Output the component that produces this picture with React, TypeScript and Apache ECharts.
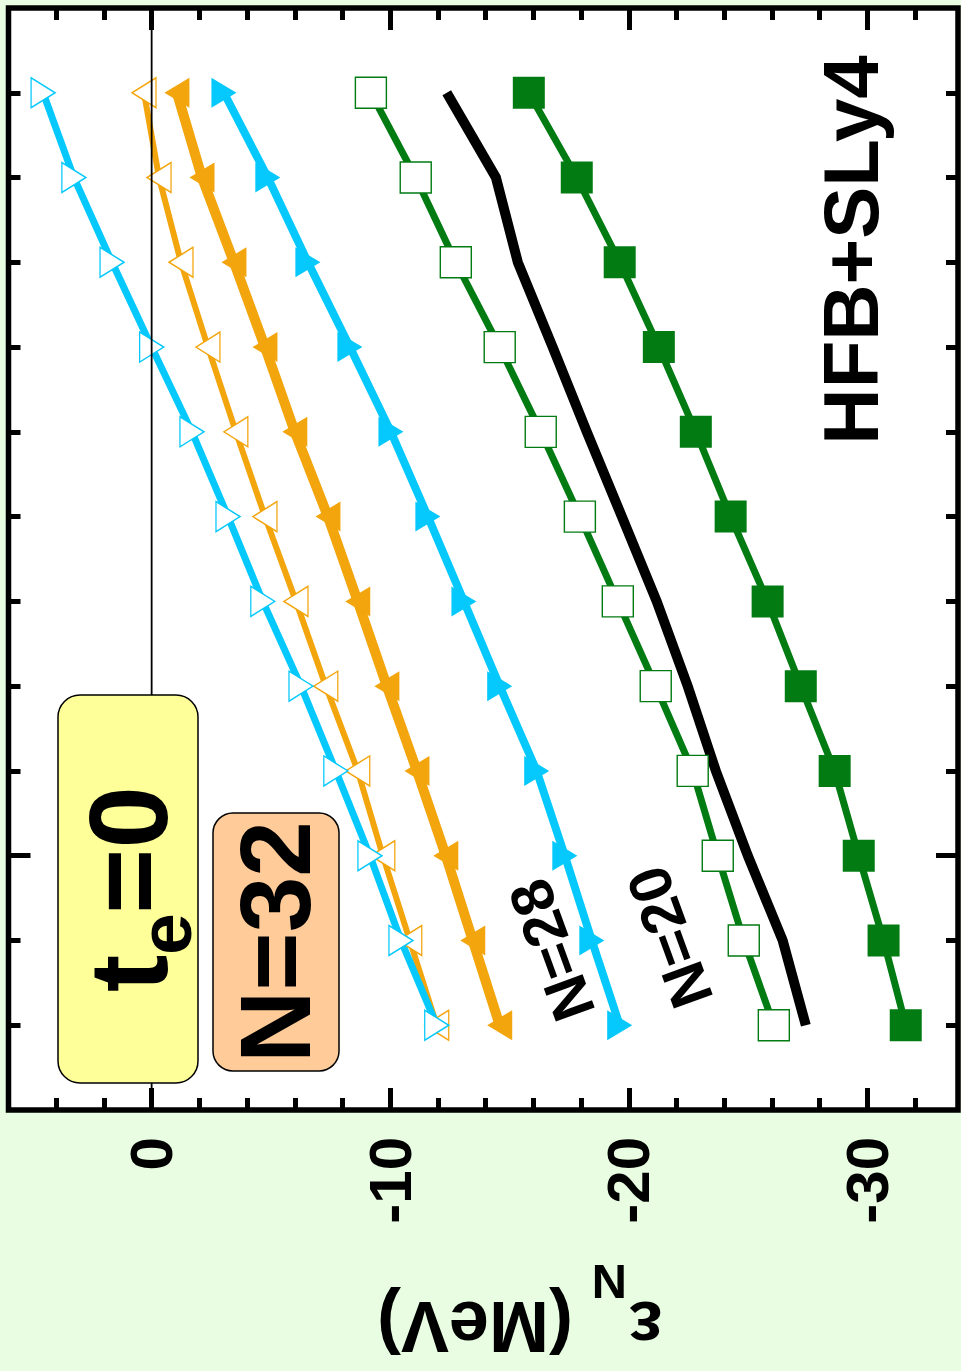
import { useEffect, useRef } from 'react';
import * as echarts from 'echarts';

const FONT = '"Liberation Sans", Arial, Helvetica, sans-serif';

const CYAN = '#05c8fc';
const ORANGE = '#f2a50c';
const GREEN = '#037b13';

// Vertical positions of the twelve calculated points (axis runs 0 at top to 13 at bottom)
const steps = [1, 2, 3, 4, 5, 6, 7, 8, 9, 10, 11, 12];

// epsilon_N (MeV) for each curve, listed top to bottom
const cyanOpen = [4.55, 3.26, 1.66, 0.0, -1.69, -3.2, -4.66, -6.26, -7.72, -9.15, -10.45, -11.95];
const orangeOpen = [0.32, -0.31, -1.23, -2.36, -3.53, -4.75, -6.05, -7.3, -8.64, -9.69, -10.82, -11.95];
const orangeFilled = [-1.06, -2.11, -3.45, -4.75, -6.0, -7.39, -8.64, -9.86, -11.12, -12.33, -13.46, -14.59];
const cyanFilled = [-3.03, -4.87, -6.55, -8.31, -10.03, -11.58, -13.09, -14.59, -16.14, -17.32, -18.45, -19.62];
const greenOpen = [-9.19, -11.07, -12.75, -14.59, -16.31, -17.95, -19.54, -21.13, -22.68, -23.73, -24.82, -26.08];
const greenFilled = [-15.81, -17.82, -19.62, -21.26, -22.81, -24.27, -25.82, -27.21, -28.63, -29.64, -30.68, -31.61];
const blackCurve = [-12.37, -14.43, -15.35, -16.81, -18.24, -19.71, -21.17, -22.47, -23.65, -24.99, -26.45, -27.42];

// Zero reference line (epsilon, vertical position)
const zeroLine = [[0, 0], [0, 13]];

// Axis ranges and ticks
const X_MIN = -33.8;
const X_MAX = 6;
const xMajorTicks = [0, -10, -20, -30];
const xMinorTicks = [6, 4, 2, 0, -2, -4, -6, -8, -10, -12, -14, -16, -18, -20, -22, -24, -26, -28, -30, -32];
const Y_MIN = 0;
const Y_MAX = 13;
const yMinorTicks = [1, 2, 3, 4, 5, 6, 7, 8, 9, 10, 11, 12];
const yMajorTicks = [10];

const pair = (vals: number[]) => vals.map((v, i) => [v, steps[i]]);

const tickStyle = { color: '#000', width: 5, cap: 'butt' };

function xAxisDef(position: string, ticks: number[], length: number, withLabels: boolean) {
  return {
    type: 'value',
    position,
    min: X_MIN,
    max: X_MAX,
    inverse: true,
    axisLine: { show: false, onZero: false },
    splitLine: { show: false },
    axisTick: { show: true, inside: true, length, lineStyle: tickStyle, customValues: ticks },
    axisLabel: withLabels
      ? {
          show: true,
          customValues: xMajorTicks,
          rotate: 90,
          margin: 27,
          fontSize: 60,
          fontWeight: 'bold',
          fontFamily: FONT,
          color: '#000',
        }
      : { show: false },
  };
}

function yAxisDef(position: string, ticks: number[], length: number) {
  return {
    type: 'value',
    position,
    min: Y_MIN,
    max: Y_MAX,
    inverse: true,
    axisLine: { show: false, onZero: false },
    splitLine: { show: false },
    axisTick: { show: true, inside: true, length, lineStyle: tickStyle, customValues: ticks },
    axisLabel: { show: false },
  };
}

function markerSeries(
  vals: number[],
  color: string,
  width: number,
  symbol: string,
  size: number | number[],
  rotate: number,
  open: boolean,
) {
  return {
    type: 'line',
    data: pair(vals),
    symbol,
    symbolSize: size,
    symbolRotate: rotate,
    showSymbol: true,
    silent: true,
    lineStyle: { color, width, cap: 'butt', join: 'miter' },
    itemStyle: open
      ? { color: '#fff', borderColor: color, borderWidth: 1.4 }
      : { color, borderWidth: 0 },
    z: 2,
  };
}

function rotatedText(text: string, x: number, y: number, rotation: number, fontSize: number, align = 'center') {
  return {
    type: 'text',
    x,
    y,
    rotation,
    z: 20,
    silent: true,
    style: {
      text,
      align,
      verticalAlign: 'middle',
      textAlign: align,
      textVerticalAlign: 'middle',
      fontSize,
      fontWeight: 'bold',
      fontFamily: FONT,
      fill: '#000',
    },
  };
}

function localText(text: string, x: number, y: number, fontSize: number) {
  return {
    type: 'text',
    x,
    y,
    z: 20,
    silent: true,
    style: {
      text,
      align: 'left',
      verticalAlign: 'middle',
      textAlign: 'left',
      textVerticalAlign: 'middle',
      fontSize,
      fontWeight: 'bold',
      fontFamily: FONT,
      fill: '#000',
    },
  };
}

const option = {
  animation: false,
  backgroundColor: '#e8fde1',
  grid: {
    show: true,
    left: 8.5,
    top: 8,
    width: 949.5,
    height: 1102,
    backgroundColor: '#fff',
    borderColor: '#000',
    borderWidth: 5.5,
    containLabel: false,
    outerBoundsMode: 'none',
  },
  xAxis: [
    xAxisDef('bottom', xMajorTicks, 22, true),
    xAxisDef('bottom', xMinorTicks, 12, false),
    xAxisDef('top', xMajorTicks, 22, false),
    xAxisDef('top', xMinorTicks, 12, false),
  ],
  yAxis: [
    yAxisDef('left', yMinorTicks, 12),
    yAxisDef('left', yMajorTicks, 22),
    yAxisDef('right', yMinorTicks, 12),
    yAxisDef('right', yMajorTicks, 22),
  ],
  series: [
    markerSeries(orangeOpen, ORANGE, 6, 'triangle', [30, 24], 90, true),
    markerSeries(cyanOpen, CYAN, 7, 'triangle', [30, 24], -90, true),
    markerSeries(orangeFilled, ORANGE, 10, 'triangle', [30, 25], 90, false),
    markerSeries(cyanFilled, CYAN, 8, 'triangle', [30, 25], -90, false),
    markerSeries(greenOpen, GREEN, 7, 'rect', 31, 0, true),
    markerSeries(greenFilled, GREEN, 7, 'rect', 32, 0, false),
    {
      type: 'line',
      data: pair(blackCurve),
      symbol: 'none',
      silent: true,
      lineStyle: { color: '#000', width: 10, cap: 'butt', join: 'miter' },
      z: 2,
    },
    {
      type: 'line',
      data: zeroLine,
      symbol: 'none',
      silent: true,
      lineStyle: { color: '#000', width: 1.8 },
      z: 5,
    },
  ],
  graphic: {
    elements: [
      {
        type: 'rect',
        z: 10,
        silent: true,
        shape: { x: 58, y: 695, width: 140, height: 388, r: 22 },
        style: { fill: '#ffff99', stroke: '#000', lineWidth: 1.5 },
      },
      {
        type: 'rect',
        z: 10,
        silent: true,
        shape: { x: 213, y: 813, width: 126, height: 258, r: 20 },
        style: { fill: '#ffcc99', stroke: '#000', lineWidth: 1.5 },
      },
      {
        type: 'group',
        x: 128,
        y: 889,
        rotation: Math.PI / 2,
        z: 20,
        children: [
          localText('t', -103, 0, 112),
          localText('e', -66, 37, 75),
          localText('=0', -25, 0, 112),
        ],
      },
      rotatedText('N=32', 274.7, 942, Math.PI / 2, 100),
      rotatedText('HFB+SLy4', 851, 250, Math.PI / 2, 78),
      rotatedText('N=28', 552, 950, (110 * Math.PI) / 180, 60),
      rotatedText('N=20', 670, 937, (110 * Math.PI) / 180, 60),
      {
        type: 'group',
        x: 520,
        y: 1320,
        rotation: Math.PI,
        z: 20,
        children: [
          localText('ε', -143, -7, 72),
          localText('N', -107, 38, 49),
          localText('(MeV)', -53, -7, 72),
        ],
      },
    ],
  },
};

export default function App() {
  const ref = useRef<HTMLDivElement>(null);
  useEffect(() => {
    document.body.style.margin = '0';
    const chart = echarts.init(ref.current as HTMLDivElement, null, { renderer: 'svg' });
    chart.setOption(option as any);
    return () => chart.dispose();
  }, []);
  return <div ref={ref} style={{ width: 961, height: 1371 }} />;
}
